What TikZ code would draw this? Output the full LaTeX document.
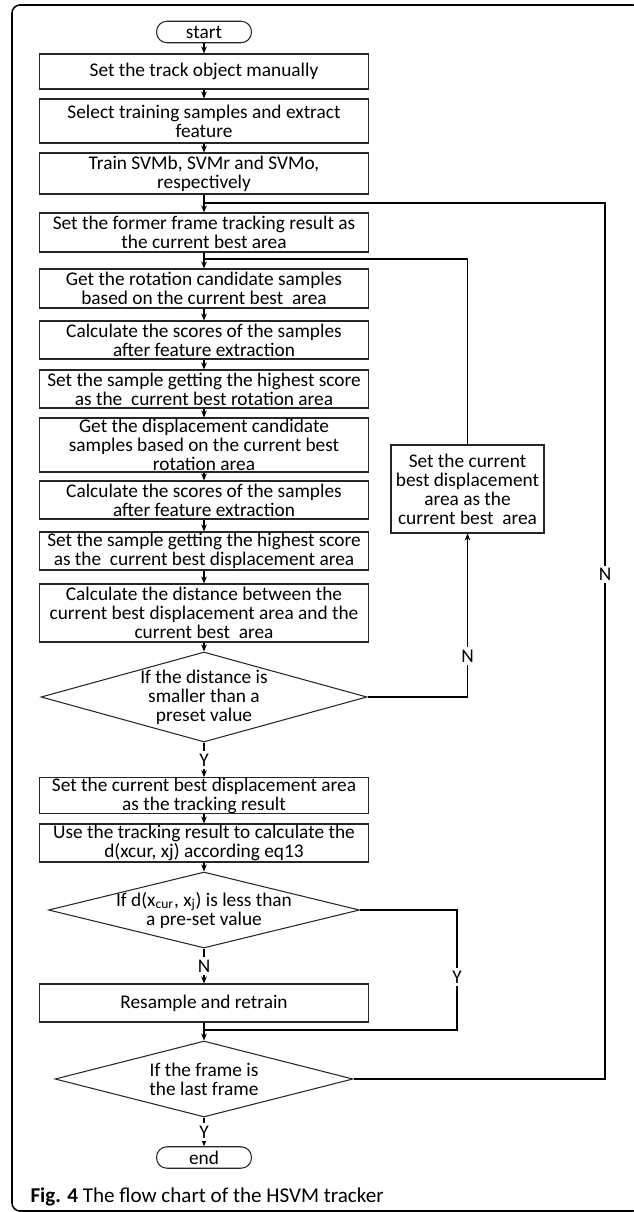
\documentclass[tikz,border=0pt]{standalone}
\usepackage{fontspec}
\setmainfont{Carlito}
\usetikzlibrary{arrows.meta,shapes.geometric,positioning}

\begin{document}
\begin{tikzpicture}[x=0.02cm,y=-0.02cm,>={Stealth[length=4pt,width=3.2pt]},line width=0.6pt,align=center,
	proc/.style={draw=black!85,rectangle,minimum width=6.58cm,inner sep=0pt,font=\fontsize{11}{10.8}\selectfont},
	term/.style={draw=black!85,rectangle,rounded corners=0.21cm,minimum width=1.9cm,minimum height=0.43cm,inner sep=0pt,font=\fontsize{11}{10.8}\selectfont},
	decision/.style={draw=black!85,diamond,inner sep=0pt},
	txt/.style={inner sep=0pt,font=\fontsize{11}{10.8}\selectfont},
	lbl/.style={fill=white,inner sep=1.5pt,font=\fontsize{11}{10.8}\selectfont}]
			\useasboundingbox (0,0) rectangle (634,1212);
			% outer frame
			\begin{scope}
				\clip (0,0) rectangle (634,1212);
				\draw[line width=0.9pt,rounded corners=0.16cm] (12,5) rectangle (641,1211);
			\end{scope}
			% main column
			\node[term] (s_0) at (204,32) {start};
			\node[proc,minimum height=0.70cm] (b_1) at (204,71.5) {Set the track object manually};
			\node[proc,minimum height=0.88cm] (b_2) at (204,121) {Select training samples and extract\\feature};
			\node[proc,minimum height=0.82cm] (b_3) at (204,173.5) {Train SVMb, SVMr and SVMo,\\respectively};
			\node[proc,minimum height=0.78cm] (b_4) at (204,232.5) {Set the former frame tracking result as\\the current best area};
			\node[proc,minimum height=0.78cm] (b_5) at (204,288.5) {Get the rotation candidate samples\\based on the current best~ area};
			\node[proc,minimum height=0.76cm] (b_6) at (204,340) {Calculate the scores of the samples\\after feature extraction};
			\node[proc,minimum height=0.76cm] (b_7) at (204,389) {Set the sample getting the highest score\\as the~ current best rotation area};
			\node[proc,minimum height=1.08cm] (b_8) at (204,445) {Get the displacement candidate\\samples based on the current best\\rotation area};
			\node[proc,minimum height=0.76cm] (b_9) at (204,500) {Calculate the scores of the samples\\after feature extraction};
			\node[proc,minimum height=0.76cm] (b_10) at (204,551) {Set the sample getting the highest score\\as the~ current best displacement area};
			\node[proc,minimum height=1.16cm] (b_11) at (204,613) {Calculate the distance between the\\current best displacement area and the\\current best~ area};
			\node[decision,minimum width=6.52cm,minimum height=1.80cm] (d_1) at (204,697) {};
			\node[txt] (t_1) at (d_1) {If the distance is\\smaller than a\\preset value};
			\node[proc,minimum height=0.66cm] (b_12) at (204,795.5) {Set the current best displacement area\\as the tracking result};
			\node[proc,minimum height=0.76cm] (b_13) at (204,843) {Use the tracking result to calculate the\\d(xcur, xj) according eq13};
			\node[decision,minimum width=6.22cm,minimum height=1.52cm] (d_2) at (204,910) {};
			\node[txt] (t_2) at (d_2) {If d(x\textsubscript{cur}, x\textsubscript{j}) is less than\\a pre-set value};
			\node[proc,minimum height=0.76cm] (b_14) at (204,1003) {Resample and retrain};
			\node[decision,minimum width=5.96cm,minimum height=1.52cm] (d_3) at (204,1079) {};
			\node[txt] (t_3) at (d_3) {If the frame is\\the last frame};
			\node[term] (e_0) at (204,1157.5) {end};
			% side box
			\node[proc,minimum width=3.06cm,minimum height=1.76cm] (r_1) at (467.5,489) {Set the current\\best displacement\\area as the\\current best~ area};
			\coordinate (n_s) at (467.5,259);
			\coordinate (n_r) at (605,203);
			\coordinate (y_r) at (457,1030);
			\path[->]
				(s_0) edge (b_1)
				(b_1) edge (b_2)
				(b_2) edge (b_3)
				(b_3) edge (b_4)
				(b_4) edge (b_5)
				(b_5) edge (b_6)
				(b_6) edge (b_7)
				(b_7) edge (b_8)
				(b_8) edge (b_9)
				(b_9) edge (b_10)
				(b_10) edge (b_11)
				(b_11) edge (d_1)
				(d_1) edge node[lbl] {Y} (b_12)
				(b_12) edge (b_13)
				(b_13) edge (d_2)
				(d_2) edge node[lbl] {N} (b_14)
				(b_14) edge (d_3)
				(d_3) edge node[lbl] {Y} (e_0);
			% loops
			\draw[->] (d_1.east) -| node[lbl,pos=0.625] {N} (r_1.south);
			\draw (r_1.north) |- (b_5.north |- n_s);
			\draw (d_3.east) -| node[lbl,pos=0.788] {N} (n_r) -- (n_r -| b_4.north);
			\draw (d_2.east) -| node[lbl,pos=0.779] {Y} (y_r) -- (y_r -| b_14.south);
			% caption
			\node[anchor=base west,inner sep=0pt,font=\fontsize{12}{14}\selectfont] (cap) at (30,1202) {\textbf{Fig. 4} The flow chart of the HSVM tracker};
		\end{tikzpicture}
\end{document}
